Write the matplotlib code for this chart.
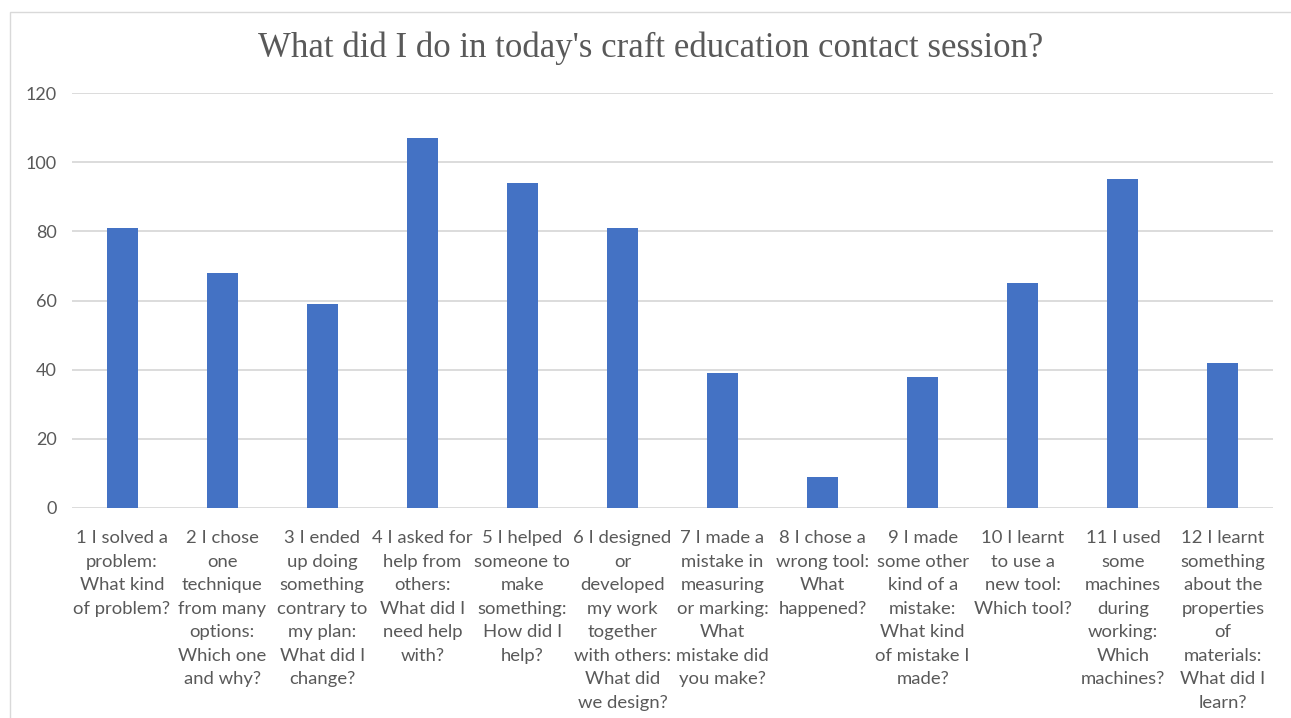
import matplotlib
matplotlib.use("Agg")
import matplotlib.pyplot as plt
from matplotlib.patches import Rectangle

categories = [
    "1 I solved a\nproblem:\nWhat kind\nof problem?",
    "2 I chose\none\ntechnique\nfrom many\noptions:\nWhich one\nand why?",
    "3 I ended\nup doing\nsomething\ncontrary to\nmy plan:\nWhat did I\nchange?",
    "4 I asked for\nhelp from\nothers:\nWhat did I\nneed help\nwith?",
    "5 I helped\nsomeone to\nmake\nsomething:\nHow did I\nhelp?",
    "6 I designed\nor\ndeveloped\nmy work\ntogether\nwith others:\nWhat did\nwe design?",
    "7 I made a\nmistake in\nmeasuring\nor marking:\nWhat\nmistake did\nyou make?",
    "8 I chose a\nwrong tool:\nWhat\nhappened?",
    "9 I made\nsome other\nkind of a\nmistake:\nWhat kind\nof mistake I\nmade?",
    "10 I learnt\nto use a\nnew tool:\nWhich tool?",
    "11 I used\nsome\nmachines\nduring\nworking:\nWhich\nmachines?",
    "12 I learnt\nsomething\nabout the\nproperties\nof\nmaterials:\nWhat did I\nlearn?",
]
values = [81, 68, 59, 107, 94, 81, 39, 9, 38, 65, 95, 42]
yticks = [0, 20, 40, 60, 80, 100, 120]
title = "What did I do in today's craft education contact session?"

W, H = 1291, 718
fig = plt.figure(figsize=(W / 100, H / 100), dpi=100)
fig.patch.set_facecolor("white")

# chart border
fig.patches.append(Rectangle((10 / W, -0.05), 1.2, 1 - 12 / H + 0.05,
                             transform=fig.transFigure, fill=False,
                             edgecolor="#D9D9D9", linewidth=1.0))

ax = fig.add_axes([72 / W, 1 - 508 / H, (1273 - 72) / W, (508 - 93) / H])
x = list(range(len(values)))
ax.bar(x, values, width=0.31, color="#4472C4", zorder=3)
ax.set_xlim(-0.5, len(values) - 0.5)
ax.set_ylim(0, 120)
ax.set_yticks(yticks)
ax.set_yticklabels([str(v) for v in yticks], fontfamily="Lato", fontsize=13,
                   color="#595959")
ax.set_xticks(x)
ax.set_xticklabels(categories, fontfamily="Lato", fontsize=13.3, color="#595959",
                   linespacing=1.58, va="top", ha="center")
ax.tick_params(axis="both", length=0)
ax.tick_params(axis="y", pad=11)
ax.tick_params(axis="x", pad=16)
ax.grid(axis="y", color="#D9D9D9", linewidth=1.3, zorder=0)
for s in ax.spines.values():
    s.set_visible(False)

fig.text(651 / W, 1 - 48 / H, title, ha="center", va="center",
         fontfamily="Liberation Serif", fontsize=25, color="#595959")

fig.savefig("out.png", dpi=100, facecolor="white")
